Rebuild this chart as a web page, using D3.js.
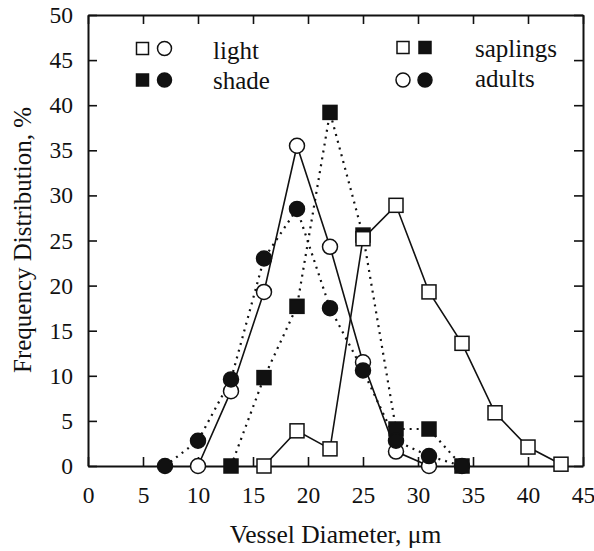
<!DOCTYPE html>
<html>
<head>
<meta charset="utf-8">
<script src="https://cdn.jsdelivr.net/npm/d3@7/dist/d3.min.js"></script>
<style>
  body { margin: 0; background: #fff; }
  text { font-family: "Liberation Serif", "DejaVu Serif", serif; fill: #111; }
</style>
</head>
<body>
<svg id="chart" width="594" height="551"></svg>
<script>
// values
var lightSaplingsX = [16, 19, 22, 25, 28, 31, 34, 37, 40, 43];
var lightSaplingsY = [0, 3.9, 1.9, 25.2, 28.9, 19.3, 13.6, 5.9, 2.1, 0.2];
var shadeSaplingsX = [13, 16, 19, 22, 25, 28, 31, 34];
var shadeSaplingsY = [0, 9.8, 17.7, 39.2, 25.6, 4.1, 4.1, 0];
var lightAdultsX = [10, 13, 16, 19, 22, 25, 28, 31];
var lightAdultsY = [0, 8.3, 19.3, 35.5, 24.3, 11.5, 1.6, 0];
var shadeAdultsX = [7, 10, 13, 16, 19, 22, 25, 28, 31, 34];
var shadeAdultsY = [0, 2.8, 9.6, 23.0, 28.5, 17.5, 10.6, 2.8, 1.1, 0];
var xTicks = [0, 5, 10, 15, 20, 25, 30, 35, 40, 45];
var yTicks = [0, 5, 10, 15, 20, 25, 30, 35, 40, 45, 50];

var svg = d3.select("#chart");
var plotL = 88, plotR = 583, plotT = 15, plotB = 466;

var x = d3.scaleLinear().domain([0, 45]).range([plotL, plotR]);
var y = d3.scaleLinear().domain([0, 50]).range([plotB, plotT]);

function zip(xs, ys) { return xs.map(function(v, i) { return {x: v, y: ys[i]}; }); }

var series = [
  {name: "shadeSaplings", pts: zip(shadeSaplingsX, shadeSaplingsY), shape: "square", filled: true, dotted: true},
  {name: "lightAdults", pts: zip(lightAdultsX, lightAdultsY), shape: "circle", filled: false, dotted: false},
  {name: "shadeAdults", pts: zip(shadeAdultsX, shadeAdultsY), shape: "circle", filled: true, dotted: true},
  {name: "lightSaplings", pts: zip(lightSaplingsX, lightSaplingsY), shape: "square", filled: false, dotted: false}
];

// axes (ticks point inward)
var axisG = svg.append("g");
axisG.append("g").attr("transform", "translate(0," + plotB + ")")
  .call(d3.axisBottom(x).tickValues(xTicks).tickSize(-9).tickSizeOuter(0).tickPadding(20));
axisG.append("g").attr("transform", "translate(" + plotL + ",0)")
  .call(d3.axisLeft(y).tickValues(yTicks).tickSize(-9).tickSizeOuter(0).tickPadding(15));
axisG.append("g").attr("transform", "translate(0," + plotT + ")")
  .call(d3.axisTop(x).tickValues(xTicks).tickSize(-9).tickSizeOuter(0).tickFormat(""));
axisG.append("g").attr("transform", "translate(" + plotR + ",0)")
  .call(d3.axisRight(y).tickValues(yTicks).tickSize(-9).tickSizeOuter(0).tickFormat(""));
axisG.selectAll("path.domain").attr("stroke", "#111").attr("stroke-width", 2);
axisG.selectAll(".tick line").attr("stroke", "#111").attr("stroke-width", 1.6);
axisG.selectAll(".tick text").style("font-size", "23.5px").attr("fill", "#111")
  .style("font-family", "'Liberation Serif', serif");

// axis titles
svg.append("text").attr("x", (plotL + plotR) / 2) .attr("y", 543)
  .attr("text-anchor", "middle").style("font-size", "25.5px").text("Vessel Diameter, \u03bcm");
svg.append("text").attr("transform", "translate(31,240) rotate(-90)")
  .attr("text-anchor", "middle").style("font-size", "25px").text("Frequency Distribution, %");

// lines
var line = d3.line().x(function(d) { return x(d.x); }).y(function(d) { return y(d.y); });
series.forEach(function(s) {
  svg.append("path").datum(s.pts)
    .attr("d", line)
    .attr("fill", "none")
    .attr("stroke", "#111")
    .attr("stroke-width", s.dotted ? 2.2 : 1.6)
    .attr("stroke-dasharray", s.dotted ? "2,5" : null);
});

function drawMarker(g, shape, filled, cx, cy, size) {
  if (shape === "square") {
    g.append("rect").attr("x", cx - size / 2).attr("y", cy - size / 2)
      .attr("width", size).attr("height", size)
      .attr("fill", filled ? "#111" : "#fff").attr("stroke", "#111").attr("stroke-width", 1.5);
  } else {
    g.append("circle").attr("cx", cx).attr("cy", cy).attr("r", size / 2 + 0.5)
      .attr("fill", filled ? "#111" : "#fff").attr("stroke", "#111").attr("stroke-width", 1.5);
  }
}

// markers
series.forEach(function(s) {
  var g = svg.append("g");
  s.pts.forEach(function(p) { drawMarker(g, s.shape, s.filled, x(p.x), y(p.y), 14); });
});

// legends
var lg = svg.append("g");
drawMarker(lg, "square", false, 142.5, 48.5, 12);
drawMarker(lg, "circle", false, 164.5, 48.5, 13);
drawMarker(lg, "square", true, 142.5, 80, 12);
drawMarker(lg, "circle", true, 164.5, 80, 13);
lg.append("text").attr("x", 213).attr("y", 59).style("font-size", "25px").text("light");
lg.append("text").attr("x", 213).attr("y", 89).style("font-size", "25px").text("shade");

drawMarker(lg, "square", false, 403, 47.5, 12);
drawMarker(lg, "square", true, 425, 47.5, 12);
drawMarker(lg, "circle", false, 403, 80, 13);
drawMarker(lg, "circle", true, 425, 80, 13);
lg.append("text").attr("x", 475).attr("y", 57).style("font-size", "25px").text("saplings");
lg.append("text").attr("x", 475).attr("y", 87).style("font-size", "25px").text("adults");
</script>
</body>
</html>
